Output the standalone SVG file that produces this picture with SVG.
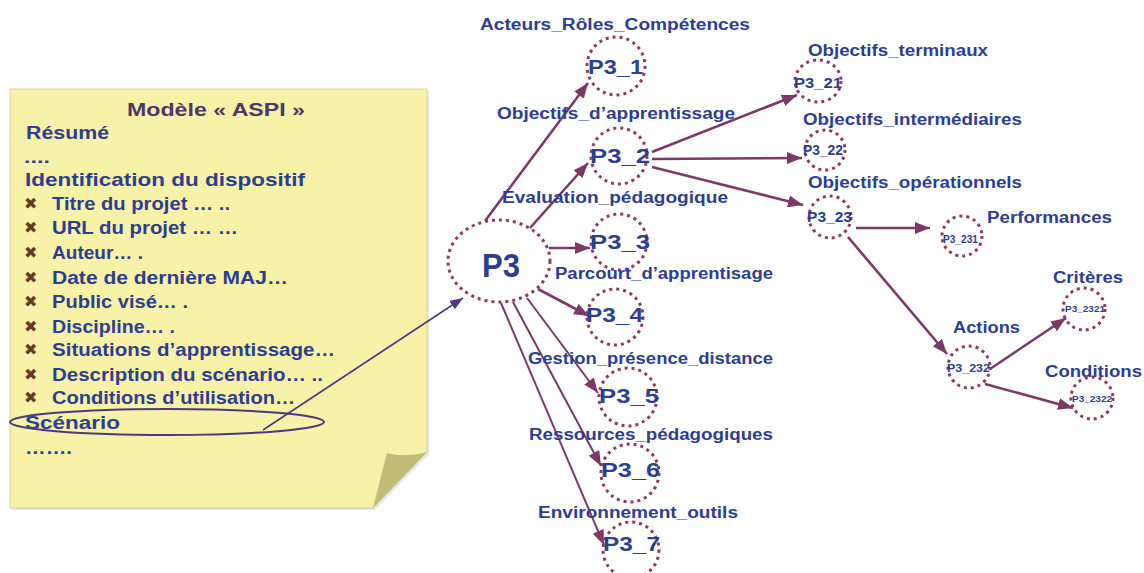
<svg xmlns="http://www.w3.org/2000/svg" width="1144" height="573" viewBox="0 0 1144 573">
  <style>
    .t { font-family: "Liberation Sans", Arial, sans-serif; font-weight: bold; fill: #2d3e8e; }
    .title { fill: #4f3868; }
    .bul { font-family: "DejaVu Sans", sans-serif; fill: #6a372c; font-size: 16px; }
    .lbl { font-size: 16px; }
    .ring { fill: none; stroke: #8b3a62; stroke-width: 3; stroke-dasharray: 3 4; }
    .link { fill: none; stroke: #7b3a66; stroke-width: 2.6; marker-end: url(#head); }
    .thin { stroke-width: 2; }
  </style>
  <defs>
    <marker id="head" markerUnits="userSpaceOnUse" markerWidth="16" markerHeight="12" refX="15" refY="6" orient="auto">
      <path d="M0,0 L15,6 L0,12 z" fill="#7b3a66"/>
    </marker>
    <marker id="headS" markerUnits="userSpaceOnUse" markerWidth="14" markerHeight="10" refX="13" refY="5" orient="auto">
      <path d="M0,0 L13,5 L0,10 z" fill="#4b3a80"/>
    </marker>
  </defs>
  <rect width="1144" height="573" fill="#ffffff"/>

  <!-- sticky note with folded corner -->
  <g id="note">
    <path d="M12,91 L429,91 L429,454 L375,510 L12,510 z" fill="#d8d8cc" opacity="0.6"/>
    <path d="M10,89 L427,89 L427,452 L373,508 L10,508 z" fill="#f8f2a8" stroke="#d6d2a4" stroke-width="1"/>
    <path d="M387,453 Q405,458 427,452 L373,508 z" fill="#c3bc78"/>
    <text class="t title" x="127" y="116" font-size="19" textLength="178" lengthAdjust="spacingAndGlyphs">Modèle « ASPI »</text>
    <text class="t" x="26" y="139" font-size="19" textLength="83" lengthAdjust="spacingAndGlyphs">Résumé</text>
    <text class="t" x="24" y="163" font-size="17" textLength="26" lengthAdjust="spacingAndGlyphs">....</text>
    <text class="t" x="25" y="186" font-size="19" textLength="280" lengthAdjust="spacingAndGlyphs">Identification du dispositif</text>
    <g class="bul">
      <text x="24" y="209">✖</text>
      <text x="24" y="233">✖</text>
      <text x="24" y="258">✖</text>
      <text x="24" y="283">✖</text>
      <text x="24" y="307">✖</text>
      <text x="24" y="332">✖</text>
      <text x="24" y="355">✖</text>
      <text x="24" y="380">✖</text>
      <text x="24" y="403">✖</text>
    </g>
    <text class="t" x="52" y="210" font-size="18" textLength="178" lengthAdjust="spacingAndGlyphs">Titre du projet … ..</text>
    <text class="t" x="52" y="234" font-size="18" textLength="186" lengthAdjust="spacingAndGlyphs">URL du projet … …</text>
    <text class="t" x="52" y="259" font-size="18" textLength="91" lengthAdjust="spacingAndGlyphs">Auteur… .</text>
    <text class="t" x="52" y="284" font-size="18" textLength="236" lengthAdjust="spacingAndGlyphs">Date de dernière MAJ…</text>
    <text class="t" x="52" y="308" font-size="18" textLength="136" lengthAdjust="spacingAndGlyphs">Public visé… .</text>
    <text class="t" x="52" y="333" font-size="18" textLength="123" lengthAdjust="spacingAndGlyphs">Discipline… .</text>
    <text class="t" x="52" y="356" font-size="18" textLength="283" lengthAdjust="spacingAndGlyphs">Situations d’apprentissage…</text>
    <text class="t" x="52" y="381" font-size="18" textLength="271" lengthAdjust="spacingAndGlyphs">Description du scénario… ..</text>
    <text class="t" x="52" y="404" font-size="18" textLength="243" lengthAdjust="spacingAndGlyphs">Conditions d’utilisation…</text>
    <text class="t" x="25" y="429" font-size="18" textLength="95" lengthAdjust="spacingAndGlyphs">Scénario</text>
    <text class="t" x="25" y="454" font-size="18" textLength="47" lengthAdjust="spacingAndGlyphs">…….</text>
    <ellipse cx="167" cy="422" rx="157" ry="13" fill="none" stroke="#4b3a80" stroke-width="2"/>
  </g>

  <!-- connectors -->
  <g id="connectors">
    <line x1="263" y1="430" x2="463" y2="298" fill="none" stroke="#4b3a80" stroke-width="1.6" marker-end="url(#headS)"/>
    <line class="link" x1="485" y1="221" x2="588" y2="83"/>
    <line class="link" x1="530" y1="228" x2="588" y2="163"/>
    <line class="link" x1="549" y1="248" x2="590" y2="248"/>
    <line class="link" x1="538" y1="289" x2="589" y2="316"/>
    <line class="link thin" x1="527" y1="298" x2="598" y2="393"/>
    <line class="link thin" x1="513" y1="302" x2="601" y2="466"/>
    <line class="link thin" x1="501" y1="303" x2="604" y2="545"/>
    <line class="link" x1="652" y1="152" x2="797" y2="95"/>
    <line class="link" x1="652" y1="159" x2="802" y2="158"/>
    <line class="link" x1="652" y1="167" x2="803" y2="205"/>
    <line class="link" x1="856" y1="228" x2="930" y2="228"/>
    <line class="link" x1="848" y1="237" x2="947" y2="354"/>
    <line class="link" x1="990" y1="369" x2="1066" y2="318"/>
    <line class="link" x1="985" y1="384" x2="1073" y2="408"/>
  </g>

  <!-- nodes -->
  <g id="P3">
    <ellipse class="ring" cx="499" cy="261" rx="51" ry="41"/>
    <text class="t" x="482" y="277" font-size="33" textLength="38" lengthAdjust="spacingAndGlyphs">P3</text>
  </g>
  <g id="P3_1">
    <text class="t lbl" x="480" y="30" textLength="270" lengthAdjust="spacingAndGlyphs">Acteurs_Rôles_Compétences</text>
    <circle class="ring" cx="616" cy="66" r="29"/>
    <text class="t" x="588" y="74" font-size="21" textLength="55" lengthAdjust="spacingAndGlyphs">P3_1</text>
  </g>
  <g id="P3_2">
    <text class="t lbl" x="497" y="119" textLength="238" lengthAdjust="spacingAndGlyphs">Objectifs_d’apprentissage</text>
    <circle class="ring" cx="619" cy="156" r="28"/>
    <text class="t" x="590" y="163" font-size="21" textLength="60" lengthAdjust="spacingAndGlyphs">P3_2</text>
  </g>
  <g id="P3_3">
    <text class="t lbl" x="502" y="203" textLength="226" lengthAdjust="spacingAndGlyphs">Evaluation_pédagogique</text>
    <circle class="ring" cx="619" cy="242" r="28"/>
    <text class="t" x="590" y="249" font-size="21" textLength="60" lengthAdjust="spacingAndGlyphs">P3_3</text>
  </g>
  <g id="P3_4">
    <text class="t lbl" x="555" y="279" textLength="218" lengthAdjust="spacingAndGlyphs">Parcourt_d’apprentisage</text>
    <circle class="ring" cx="615" cy="317" r="28"/>
    <text class="t" x="586" y="322" font-size="21" textLength="57" lengthAdjust="spacingAndGlyphs">P3_4</text>
  </g>
  <g id="P3_5">
    <text class="t lbl" x="528" y="364" textLength="245" lengthAdjust="spacingAndGlyphs">Gestion_présence_distance</text>
    <circle class="ring" cx="628" cy="397" r="29"/>
    <text class="t" x="599" y="403" font-size="21" textLength="60" lengthAdjust="spacingAndGlyphs">P3_5</text>
  </g>
  <g id="P3_6">
    <text class="t lbl" x="529" y="440" textLength="244" lengthAdjust="spacingAndGlyphs">Ressources_pédagogiques</text>
    <circle class="ring" cx="630" cy="473" r="29"/>
    <text class="t" x="601" y="477" font-size="21" textLength="59" lengthAdjust="spacingAndGlyphs">P3_6</text>
  </g>
  <g id="P3_7">
    <text class="t lbl" x="538" y="518" textLength="200" lengthAdjust="spacingAndGlyphs">Environnement_outils</text>
    <circle class="ring" cx="631" cy="550" r="28"/>
    <text class="t" x="603" y="551" font-size="21" textLength="57" lengthAdjust="spacingAndGlyphs">P3_7</text>
  </g>
  <g id="P3_21">
    <text class="t lbl" x="808" y="56" textLength="180" lengthAdjust="spacingAndGlyphs">Objectifs_terminaux</text>
    <ellipse class="ring" cx="818" cy="81" rx="23" ry="21"/>
    <text class="t" x="794" y="88" font-size="15" textLength="48" lengthAdjust="spacingAndGlyphs">P3_21</text>
  </g>
  <g id="P3_22">
    <text class="t lbl" x="803" y="125" textLength="219" lengthAdjust="spacingAndGlyphs">Objectifs_intermédiaires</text>
    <circle class="ring" cx="825" cy="150" r="20"/>
    <text class="t" x="803" y="155" font-size="15" textLength="40" lengthAdjust="spacingAndGlyphs">P3_22</text>
  </g>
  <g id="P3_23">
    <text class="t lbl" x="808" y="188" textLength="214" lengthAdjust="spacingAndGlyphs">Objectifs_opérationnels</text>
    <circle class="ring" cx="830" cy="217" r="21"/>
    <text class="t" x="807" y="222" font-size="15" textLength="45" lengthAdjust="spacingAndGlyphs">P3_23</text>
  </g>
  <g id="P3_231">
    <text class="t lbl" x="987" y="223" textLength="125" lengthAdjust="spacingAndGlyphs">Performances</text>
    <circle class="ring" cx="962" cy="236" r="20"/>
    <text class="t" x="943" y="243" font-size="10" textLength="35" lengthAdjust="spacingAndGlyphs">P3_231</text>
  </g>
  <g id="P3_232">
    <text class="t lbl" x="953" y="333" textLength="67" lengthAdjust="spacingAndGlyphs">Actions</text>
    <circle class="ring" cx="969" cy="367" r="21"/>
    <text class="t" x="947" y="372" font-size="11" textLength="43" lengthAdjust="spacingAndGlyphs">P3_232</text>
  </g>
  <g id="P3_2321">
    <text class="t lbl" x="1053" y="283" textLength="70" lengthAdjust="spacingAndGlyphs">Critères</text>
    <circle class="ring" cx="1084" cy="309" r="21"/>
    <text class="t" x="1065" y="312" font-size="9" textLength="40" lengthAdjust="spacingAndGlyphs">P3_2321</text>
  </g>
  <g id="P3_2322">
    <text class="t lbl" x="1045" y="377" textLength="97" lengthAdjust="spacingAndGlyphs">Conditions</text>
    <circle class="ring" cx="1092" cy="398" r="21"/>
    <text class="t" x="1072" y="402" font-size="9" textLength="40" lengthAdjust="spacingAndGlyphs">P3_2322</text>
  </g>
</svg>
